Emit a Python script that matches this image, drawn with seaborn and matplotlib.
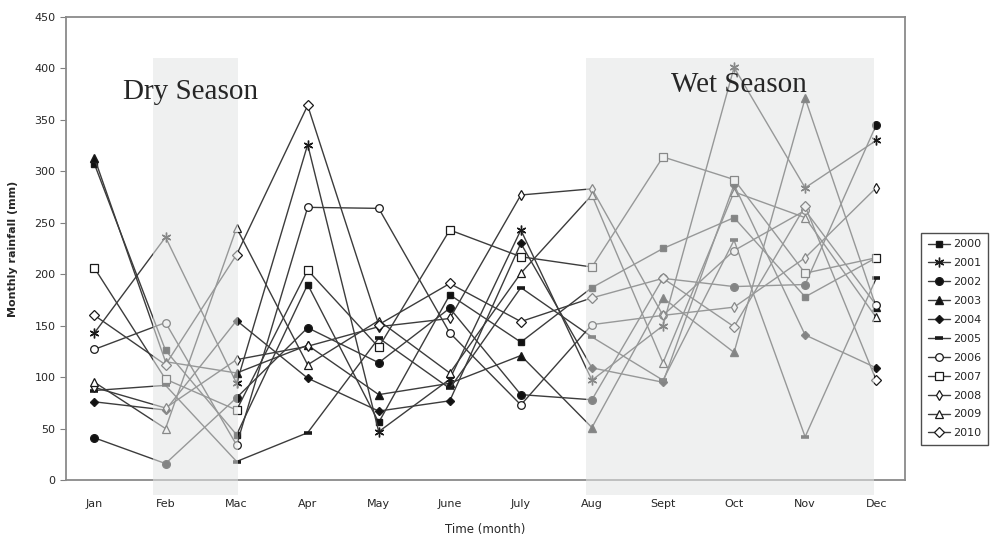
import pandas as pd
import seaborn as sns
import matplotlib.pyplot as plt
from matplotlib.patches import Rectangle

# Monthly rainfall (mm)
months = ["Jan", "Feb", "Mac", "Apr", "May", "June", "July", "Aug", "Sept", "Oct", "Nov", "Dec"]
years = ["2000", "2001", "2002", "2003", "2004", "2005", "2006", "2007", "2008", "2009", "2010"]

r2000 = [307, 126, 44, 190, 56, 180, 134, 187, 225, 255, 178, 216]
r2001 = [143, 236, 94, 326, 47, 98, 243, 97, 150, 401, 284, 330]
r2002 = [41, 16, 80, 148, 114, 167, 83, 78, 196, 188, 190, 345]
r2003 = [313, 115, 104, 131, 83, 94, 121, 51, 177, 124, 371, 168]
r2004 = [76, 68, 155, 99, 67, 77, 230, 109, 95, 287, 141, 109]
r2005 = [87, 92, 18, 46, 138, 89, 187, 139, 97, 233, 42, 196]
r2006 = [127, 153, 34, 265, 264, 143, 73, 151, 160, 223, 262, 170]
r2007 = [206, 98, 68, 204, 129, 243, 217, 207, 314, 292, 201, 216]
r2008 = [90, 70, 117, 130, 149, 157, 277, 283, 160, 168, 216, 284]
r2009 = [95, 50, 245, 112, 155, 104, 201, 277, 114, 280, 255, 158]
r2010 = [160, 112, 219, 364, 151, 191, 154, 177, 196, 149, 266, 97]

series = [r2000, r2001, r2002, r2003, r2004, r2005, r2006, r2007, r2008, r2009, r2010]

rows = []
for y, vals in zip(years, series):
    for i, v in enumerate(vals):
        rows.append({"year": y, "month": i, "rain": v})
df = pd.DataFrame(rows)

# marker, filled?, size, edge width
styles = {
    "2000": ("s", True, 5, 1.0),
    "2001": ((6, 2, 0), False, 7, 1.0),
    "2002": ("o", True, 5.5, 1.0),
    "2003": ("^", True, 5.5, 1.0),
    "2004": ("D", True, 3.8, 1.0),
    "2005": ("_", True, 6, 2.6),
    "2006": ("o", False, 5.5, 0.9),
    "2007": ("s", False, 5.5, 0.9),
    "2008": ("d", False, 5, 0.9),
    "2009": ("^", False, 5.5, 0.9),
    "2010": ("D", False, 4.8, 0.9),
}

sns.set_style("white")
plt.rcParams["font.family"] = ["Liberation Sans Narrow", "DejaVu Sans"]

fig = plt.figure(figsize=(9.93, 5.44), dpi=100)
ax = fig.add_axes([0.0665, 0.1176, 0.8445, 0.8512])

for y in years:
    m, filled, ms, mew = styles[y]
    sub = df[df["year"] == y]
    sns.lineplot(data=sub, x="month", y="rain", ax=ax, color="#3c3c3c", linewidth=1.0,
                 marker=m, markersize=ms, markeredgewidth=mew,
                 markerfacecolor="#111111" if filled else "white",
                 markeredgecolor="#1a1a1a", label=y, legend=False, zorder=3)

# season shading drawn over the lines (washes them out like the original)
for x0, x1 in [(0.83, 2.02), (6.92, 10.97)]:
    ax.add_patch(Rectangle((x0, -15), x1 - x0, 425, facecolor="#e2e4e4", alpha=0.55,
                           edgecolor="none", zorder=5, clip_on=False))

ax.text(1.35, 377, "Dry Season", family="Liberation Serif", fontsize=21, ha="center", va="center", zorder=6)
ax.text(9.07, 384, "Wet Season", family="Liberation Serif", fontsize=21, ha="center", va="center", zorder=6)

ax.set_xlim(-0.4, 11.4)
ax.set_ylim(0, 450)
ax.set_xticks(range(12))
ax.set_xticklabels(months, fontsize=8)
ax.set_yticks(range(0, 451, 50))
ax.tick_params(axis="y", labelsize=8, length=4, color="#808080", left=True)
ax.tick_params(axis="x", length=0, pad=14)
ax.set_xlabel("Time (month)", fontsize=8.5, labelpad=10)
ax.set_ylabel("Monthly rainfall (mm)", fontsize=8, fontweight="bold", labelpad=12)

for s in ax.spines.values():
    s.set_visible(True)
    s.set_color("#8a8a8a")
    s.set_linewidth(1.3)

handles, labels = ax.get_legend_handles_labels()
leg = fig.legend(handles, labels, loc="upper left", bbox_to_anchor=(0.9275, 0.572),
                 bbox_transform=fig.transFigure, fontsize=8, frameon=True, fancybox=False,
                 edgecolor="#222222", handlelength=2.0, handletextpad=0.3, labelspacing=0.8,
                 borderpad=0.6, borderaxespad=0)
leg.get_frame().set_linewidth(1.0)

fig.savefig("out.png", dpi=100)
